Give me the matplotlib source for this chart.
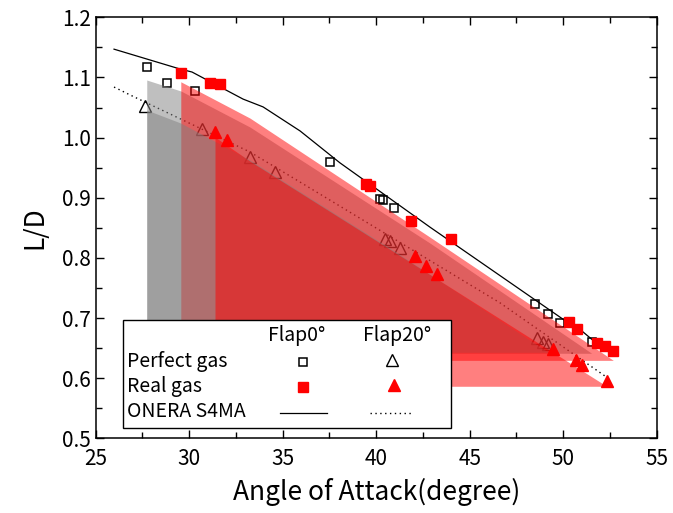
import matplotlib
matplotlib.use("Agg")
import matplotlib.pyplot as plt
from matplotlib.patches import Rectangle

plt.rcParams["font.family"] = ["Noto Sans CJK JP", "DejaVu Sans"]

# Perfect gas, Flap 0 deg (open squares)
perf0_x = [27.73, 28.80, 30.31, 37.53, 40.20, 40.38, 40.97, 48.48, 49.19, 49.84, 51.52]
perf0_y = [1.118, 1.090, 1.077, 0.960, 0.898, 0.897, 0.883, 0.723, 0.7075, 0.692, 0.660]

# Real gas, Flap 0 deg (filled squares)
real0_x = [29.56, 31.11, 31.65, 39.45, 39.67, 41.84, 44.00, 50.33, 50.75, 51.82, 52.25, 52.68]
real0_y = [1.107, 1.091, 1.089, 0.922, 0.919, 0.862, 0.831, 0.6935, 0.6825, 0.659, 0.6535, 0.6453]

# Perfect gas, Flap 20 deg (open triangles)
perf20_x = [27.64, 30.67, 33.25, 34.60, 40.46, 40.73, 41.27, 48.61, 48.92, 49.20]
perf20_y = [1.0524, 1.0136, 0.968, 0.942, 0.831, 0.828, 0.8156, 0.666, 0.660, 0.6576]

# Real gas, Flap 20 deg (filled triangles)
real20_x = [31.38, 32.04, 42.07, 42.66, 43.27, 49.47, 50.68, 50.99, 52.33]
real20_y = [1.0097, 0.9958, 0.8028, 0.7862, 0.7729, 0.6492, 0.6298, 0.6214, 0.5948]

# ONERA S4MA reference curves
onera0_x = [25.98, 29.51, 30.15, 32.88, 33.95, 35.93, 38.06, 42.88, 49.99, 50.90, 51.59, 51.86]
onera0_y = [1.147, 1.114, 1.109, 1.064, 1.051, 1.011, 0.958, 0.851, 0.698, 0.681, 0.663, 0.656]
onera20_x = [25.98, 26.83, 33.25, 35.93, 46.63, 52.35]
onera20_y = [1.084, 1.071, 0.976, 0.926, 0.725, 0.601]

# shaded areas (top edge, flat bottom)
shade_perf0_x = [27.73, 29.56, 33.25, 42.88, 51.52]
shade_perf0_y = [1.0957, 1.0774, 1.0175, 0.8245, 0.6414]
shade_real0_x = [29.55, 33.25, 42.88, 52.68]
shade_real0_y = [1.0928, 1.0324, 0.8344, 0.6296]
shade_perf20_x = [27.73, 29.55, 33.25, 40.90, 49.20]
shade_perf20_y = [1.0458, 1.0241, 0.9626, 0.8128, 0.6431]
shade_real20_x = [31.38, 33.25, 40.90, 52.33]
shade_real20_y = [1.0008, 0.9609, 0.8111, 0.5865]

fig = plt.figure(figsize=(6.73, 5.13), dpi=100)
ax = fig.add_axes([0.1422, 0.1456, 0.8336, 0.8207])

# reference lines and open markers go under the shading
ax.plot(onera0_x, onera0_y, color="black", lw=0.9, zorder=1)
ax.plot(onera20_x, onera20_y, color="black", lw=1.0, ls=(0, (1, 2.5)), zorder=1)
ax.plot(perf0_x, perf0_y, ls="none", marker="s", ms=6, mfc="none", mec="black", mew=1.1, zorder=1)
ax.plot(perf20_x, perf20_y, ls="none", marker="^", ms=8, mfc="none", mec="black", mew=1.0, zorder=1)

ax.fill_between(shade_perf0_x, shade_perf0_y, min(shade_perf0_y), color="#808080", alpha=0.5, lw=0, zorder=2)
ax.fill_between(shade_real0_x, shade_real0_y, min(shade_real0_y), color="#ff0000", alpha=0.5, lw=0, zorder=2)
ax.fill_between(shade_perf20_x, shade_perf20_y, min(shade_perf20_y), color="#808080", alpha=0.5, lw=0, zorder=2)
ax.fill_between(shade_real20_x, shade_real20_y, min(shade_real20_y), color="#ff0000", alpha=0.5, lw=0, zorder=2)

ax.plot(real0_x, real0_y, ls="none", marker="s", ms=6.5, mfc="red", mec="red", zorder=3)
ax.plot(real20_x, real20_y, ls="none", marker="^", ms=8, mfc="red", mec="red", zorder=3)

ax.set_xlim(25, 55)
ax.set_ylim(0.5, 1.2)
ax.set_xticks([25, 30, 35, 40, 45, 50, 55])
ax.set_xticks([27.5, 32.5, 37.5, 42.5, 47.5, 52.5], minor=True)
ax.set_yticks([0.5, 0.6, 0.7, 0.8, 0.9, 1.0, 1.1, 1.2])
ax.set_yticklabels(["0.5", "0.6", "0.7", "0.8", "0.9", "1.0", "1.1", "1.2"])
ax.set_yticks([0.55, 0.65, 0.75, 0.85, 0.95, 1.05, 1.15], minor=True)
ax.tick_params(which="both", direction="in", top=True, right=True, labelsize=15, width=1.0)
ax.tick_params(which="major", length=6)
ax.tick_params(which="minor", length=4)
ax.tick_params(axis="x", pad=7)
for sp in ax.spines.values():
    sp.set_linewidth(1.1)

ax.set_xlabel("Angle of Attack(degree)", fontsize=19, labelpad=6)
ax.set_ylabel("L/D", fontsize=19, labelpad=10)

# hand made legend table
ax.add_patch(Rectangle((0.049, 0.025), 0.584, 0.256, transform=ax.transAxes,
                       facecolor="white", edgecolor="black", lw=1.0, zorder=5))
ax.text(0.358, 0.245, "Flap0°", transform=ax.transAxes, ha="center", va="center", fontsize=14, zorder=6)
ax.text(0.537, 0.245, "Flap20°", transform=ax.transAxes, ha="center", va="center", fontsize=14, zorder=6)
ax.text(0.056, 0.182, "Perfect gas", transform=ax.transAxes, ha="left", va="center", fontsize=14, zorder=6)
ax.text(0.056, 0.123, "Real gas", transform=ax.transAxes, ha="left", va="center", fontsize=14, zorder=6)
ax.text(0.056, 0.063, "ONERA S4MA", transform=ax.transAxes, ha="left", va="center", fontsize=14, zorder=6)
ax.plot([0.369], [0.182], transform=ax.transAxes, marker="s", ms=6, mfc="none", mec="black", mew=1.1, zorder=6, clip_on=False)
ax.plot([0.528], [0.185], transform=ax.transAxes, marker="^", ms=8, mfc="none", mec="black", mew=1.0, zorder=6, clip_on=False)
ax.plot([0.369], [0.123], transform=ax.transAxes, marker="s", ms=6.5, mfc="red", mec="red", zorder=6, clip_on=False)
ax.plot([0.531], [0.126], transform=ax.transAxes, marker="^", ms=8, mfc="red", mec="red", zorder=6, clip_on=False)
ax.plot([0.329, 0.412], [0.059, 0.059], transform=ax.transAxes, color="black", lw=0.9, zorder=6)
ax.plot([0.489, 0.566], [0.059, 0.059], transform=ax.transAxes, color="black", lw=1.0, ls=(0, (1, 2.5)), zorder=6)

fig.savefig("out.png", dpi=100)
